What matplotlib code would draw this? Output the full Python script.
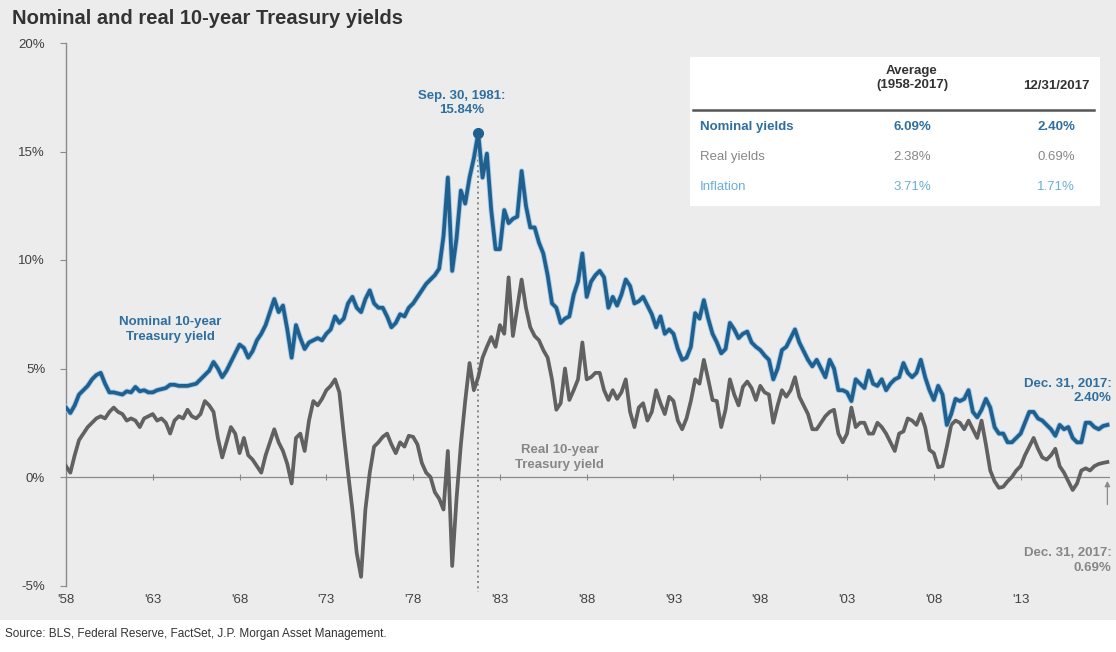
import numpy as np
import matplotlib
matplotlib.use("Agg")
import matplotlib.pyplot as plt
import matplotlib.patheffects as pe
from matplotlib.patches import Rectangle
from matplotlib.lines import Line2D

plt.rcParams['font.family'] = ['Liberation Sans', 'DejaVu Sans']

# quarterly readings, 1958 Q1 .. 2017 Q4, plus year-end 2017
nominal = [
    3.2, 2.95, 3.3, 3.8,     4.0, 4.2, 4.5, 4.7,      4.8, 4.3, 3.9, 3.9,
    3.85, 3.8, 3.95, 3.9,    4.15, 3.95, 4.0, 3.9,    3.9, 4.0, 4.05, 4.1,
    4.25, 4.25, 4.2, 4.2,    4.2, 4.25, 4.3, 4.5,     4.7, 4.9, 5.3, 5.0,
    4.6, 4.9, 5.3, 5.7,      6.1, 5.95, 5.5, 5.8,     6.3, 6.6, 7.0, 7.6,
    8.2, 7.6, 7.9, 6.8,      5.5, 7.0, 6.4, 5.9,      6.2, 6.3, 6.4, 6.3,
    6.6, 6.8, 7.4, 7.1,      7.3, 8.0, 8.3, 7.8,      7.6, 8.2, 8.6, 8.0,
    7.8, 7.8, 7.4, 6.9,      7.1, 7.5, 7.4, 7.8,      8.0, 8.3, 8.6, 8.9,
    9.1, 9.3, 9.6, 11.1,     13.8, 9.5, 11.0, 13.2,   12.6, 13.8, 14.7, 15.84,
    13.8, 14.9, 12.3, 10.5,  10.5, 12.3, 11.7, 11.9,  12.0, 14.1, 12.5, 11.5,
    11.5, 10.8, 10.3, 9.3,   8.0, 7.8, 7.1, 7.3,      7.4, 8.4, 9.0, 10.3,
    8.3, 9.0, 9.3, 9.5,      9.2, 7.8, 8.3, 7.9,      8.4, 9.1, 8.8, 8.0,
    8.1, 8.3, 7.9, 7.5,      6.9, 7.4, 6.6, 6.8,      6.6, 5.9, 5.4, 5.5,
    6.0, 7.55, 7.3, 8.15,    7.3, 6.6, 6.2, 5.7,      5.9, 7.1, 6.8, 6.4,
    6.6, 6.7, 6.2, 6.0,      5.85, 5.6, 5.4, 4.5,     5.0, 5.85, 6.0, 6.4,
    6.8, 6.2, 5.8, 5.4,      5.1, 5.4, 5.0, 4.6,      5.4, 5.0, 4.0, 4.0,
    3.9, 3.5, 4.5, 4.3,      4.1, 4.9, 4.3, 4.2,      4.5, 4.0, 4.3, 4.5,
    4.6, 5.25, 4.8, 4.6,     4.8, 5.4, 4.6, 4.0,      3.55, 4.2, 3.8, 2.4,
    2.9, 3.6, 3.5, 3.6,      4.0, 3.0, 2.75, 3.1,     3.6, 3.2, 2.3, 2.0,
    2.0, 1.6, 1.6, 1.8,      2.0, 2.5, 3.0, 3.0,      2.7, 2.6, 2.4, 2.2,
    1.9, 2.4, 2.2, 2.3,      1.8, 1.6, 1.6, 2.5,      2.5, 2.3, 2.2, 2.35,
    2.40,
]

real = [
    0.5, 0.2, 1.0, 1.7,      2.0, 2.3, 2.5, 2.7,      2.8, 2.7, 3.0, 3.2,
    3.0, 2.9, 2.6, 2.7,      2.6, 2.3, 2.7, 2.8,      2.9, 2.6, 2.7, 2.5,
    2.0, 2.6, 2.8, 2.7,      3.1, 2.8, 2.7, 2.9,      3.5, 3.3, 3.0, 1.8,
    0.9, 1.6, 2.3, 2.0,      1.1, 1.8, 1.0, 0.8,      0.5, 0.2, 1.0, 1.6,
    2.2, 1.6, 1.2, 0.6,      -0.3, 1.8, 2.0, 1.2,     2.6, 3.5, 3.3, 3.6,
    4.0, 4.2, 4.5, 3.9,      2.0, 0.2, -1.5, -3.5,    -4.6, -1.5, 0.2, 1.4,
    1.6, 1.85, 2.0, 1.5,     1.1, 1.6, 1.4, 1.9,      1.85, 1.5, 0.65, 0.2,
    0.0, -0.7, -1.0, -1.5,   1.2, -4.1, -1.0, 1.5,    3.5, 5.25, 4.0, 4.6,
    5.5, 6.0, 6.45, 6.0,     7.0, 6.6, 9.2, 6.5,      7.8, 9.1, 7.8, 6.9,
    6.5, 6.3, 5.85, 5.5,     4.5, 3.1, 3.4, 5.0,      3.55, 4.0, 4.5, 6.2,
    4.5, 4.6, 4.8, 4.8,      4.0, 3.55, 4.0, 3.6,     3.9, 4.5, 3.0, 2.3,
    3.2, 3.4, 2.6, 3.0,      4.0, 3.4, 2.9, 3.7,      3.5, 2.6, 2.2, 2.7,
    3.5, 4.5, 4.3, 5.4,      4.5, 3.55, 3.5, 2.3,     3.1, 4.5, 3.8, 3.3,
    4.15, 4.4, 4.1, 3.55,    4.2, 3.9, 3.8, 2.5,      3.3, 4.0, 3.7, 4.0,
    4.6, 3.7, 3.3, 2.9,      2.2, 2.2, 2.5, 2.8,      3.0, 3.1, 2.0, 1.6,
    2.0, 3.2, 2.3, 2.5,      2.5, 2.0, 2.0, 2.5,      2.3, 2.0, 1.6, 1.2,
    2.0, 2.1, 2.7, 2.6,      2.4, 2.9, 2.3, 1.25,     1.1, 0.45, 0.5, 1.4,
    2.4, 2.6, 2.5, 2.2,      2.6, 2.2, 1.8, 2.6,      1.5, 0.3, -0.2, -0.5,
    -0.45, -0.2, 0.0, 0.3,   0.5, 1.0, 1.4, 1.8,      1.3, 0.9, 0.8, 1.0,
    1.3, 0.5, 0.2, -0.2,     -0.6, -0.3, 0.3, 0.4,    0.3, 0.5, 0.6, 0.65,
    0.69,
]

dates = 1958 + 0.25 * np.arange(len(nominal))

tick_years = [1958, 1963, 1968, 1973, 1978, 1983, 1988, 1993, 1998, 2003, 2008, 2013]
tick_labels = ["'58", "'63", "'68", "'73", "'78", "'83", "'88", "'93", "'98", "'03", "'08", "'13"]
y_ticks = [-5, 0, 5, 10, 15, 20]

table_cols = ["Average\n(1958-2017)", "12/31/2017"]
table_rows = ["Nominal yields", "Real yields", "Inflation"]
table_avg = ["6.09%", "2.38%", "3.71%"]
table_end = ["2.40%", "0.69%", "1.71%"]

peak_date, peak_val = 1981.75, 15.84

BLUE = "#20608f"
BLUE_TXT = "#2f6f9f"
LIGHT_BLUE = "#6aaed6"
GREY = "#616161"
GREY_TXT = "#878787"
PANEL = "#ececec"

W, H = 1116, 652
fig = plt.figure(figsize=(W / 100, H / 100), dpi=100, facecolor="white")


def fx(px):
    return px / W


def fy(py):
    return 1 - py / H


# grey panel behind everything except the source line
fig.patches.append(Rectangle((0, fy(620)), 1, 1 - fy(620), transform=fig.transFigure,
                             facecolor=PANEL, edgecolor="none", zorder=-10))

ax = fig.add_axes([fx(66), fy(585.5), fx(1110) - fx(66), fy(43) - fy(585.5)])
ax.set_facecolor("none")
ax.set_xlim(1958, 2018.15)
ax.set_ylim(-5, 20)

for s in ["top", "right", "bottom"]:
    ax.spines[s].set_visible(False)
ax.spines["left"].set_color("#8a8a8a")
ax.spines["left"].set_linewidth(1)

ax.set_yticks(y_ticks)
ax.set_yticklabels([f"{v}%" for v in y_ticks])
ax.tick_params(axis="y", length=4, color="#8a8a8a", labelsize=9.5, labelcolor="#404040", pad=11)
ax.set_xticks(tick_years)
ax.set_xticklabels(tick_labels)
ax.tick_params(axis="x", length=0, labelsize=9.5, labelcolor="#404040", pad=6)

ax.axhline(0, color="#8a8a8a", lw=0.9, zorder=1)
ax.vlines(tick_years[1:], -0.12, 0.12, color="#8a8a8a", lw=0.8, zorder=1)

# dotted drop line from the 1981 peak
ax.plot([peak_date, peak_date], [peak_val, -5.3], ls=(0, (1.2, 2)), color="#777777",
        lw=1.2, zorder=2, clip_on=False)

ax.plot(dates, real, color=GREY, lw=2.7, zorder=3, solid_joinstyle="round")
ax.plot(dates, nominal, color=BLUE, lw=2.7, zorder=4, solid_joinstyle="round",
        path_effects=[pe.Stroke(linewidth=4.0, foreground="#a9cde8"), pe.Normal()])
ax.plot([peak_date], [peak_val], "o", color=BLUE, ms=7, zorder=5)

bold = dict(fontweight="bold", fontsize=9.5)
ax.text(1980.8, 17.25, "Sep. 30, 1981:\n15.84%", color=BLUE_TXT, ha="center", va="center",
        linespacing=1.25, **bold)
ax.text(1964.0, 6.8, "Nominal 10-year\nTreasury yield", color=BLUE_TXT, ha="center",
        va="center", linespacing=1.25, **bold)
ax.text(1986.45, 0.9, "Real 10-year\nTreasury yield", color=GREY_TXT, ha="center",
        va="center", linespacing=1.25, **bold)
ax.text(2018.25, 3.95, "Dec. 31, 2017:\n2.40%", color=BLUE_TXT, ha="right", va="center",
        linespacing=1.25, clip_on=False, **bold)
ax.text(2018.25, -3.85, "Dec. 31, 2017:\n0.69%", color=GREY_TXT, ha="right", va="center",
        linespacing=1.25, clip_on=False, **bold)
ax.annotate("", xy=(2018.0, -0.05), xytext=(2018.0, -1.4),
            arrowprops=dict(arrowstyle="-|>", color="#8a8a8a", lw=0.9, mutation_scale=8))

# title and source
fig.text(fx(12), fy(18), "Nominal and real 10-year Treasury yields", fontsize=14.5,
         fontweight="bold", color="#333333", ha="left", va="center")
fig.text(fx(5), fy(634), "Source: BLS, Federal Reserve, FactSet, J.P. Morgan Asset Management.",
         fontsize=8.5, color="#333333", ha="left", va="center")

# summary table
fig.patches.append(Rectangle((fx(690), fy(206)), fx(1100) - fx(690), fy(57) - fy(206),
                             transform=fig.transFigure, facecolor="white",
                             edgecolor="none", zorder=5))
col_x = [912, 1056]
fig.text(fx(col_x[0]), fy(78), table_cols[0], ha="center", va="center", fontsize=9.5,
         fontweight="bold", color="#333333", linespacing=1.15, zorder=6)
fig.text(fx(col_x[1]), fy(86), table_cols[1], ha="center", va="center", fontsize=9.5,
         fontweight="bold", color="#333333", zorder=6)
fig.lines.append(Line2D([fx(693), fx(1094)], [fy(110), fy(110)], transform=fig.transFigure,
                        color="#555555", lw=1.8, zorder=6))

row_y = [127, 157, 187]
row_colors = [BLUE_TXT, GREY_TXT, LIGHT_BLUE]
row_weights = ["bold", "normal", "normal"]
for label, avg, end, yy, c, w in zip(table_rows, table_avg, table_end, row_y, row_colors, row_weights):
    fig.text(fx(700), fy(yy), label, ha="left", va="center", fontsize=9.5, color=c,
             fontweight=w, zorder=6)
    fig.text(fx(col_x[0]), fy(yy), avg, ha="center", va="center", fontsize=9.5, color=c,
             fontweight=w, zorder=6)
    fig.text(fx(col_x[1]), fy(yy), end, ha="center", va="center", fontsize=9.5, color=c,
             fontweight=w, zorder=6)

fig.savefig("out.png", dpi=100, facecolor=fig.get_facecolor())
